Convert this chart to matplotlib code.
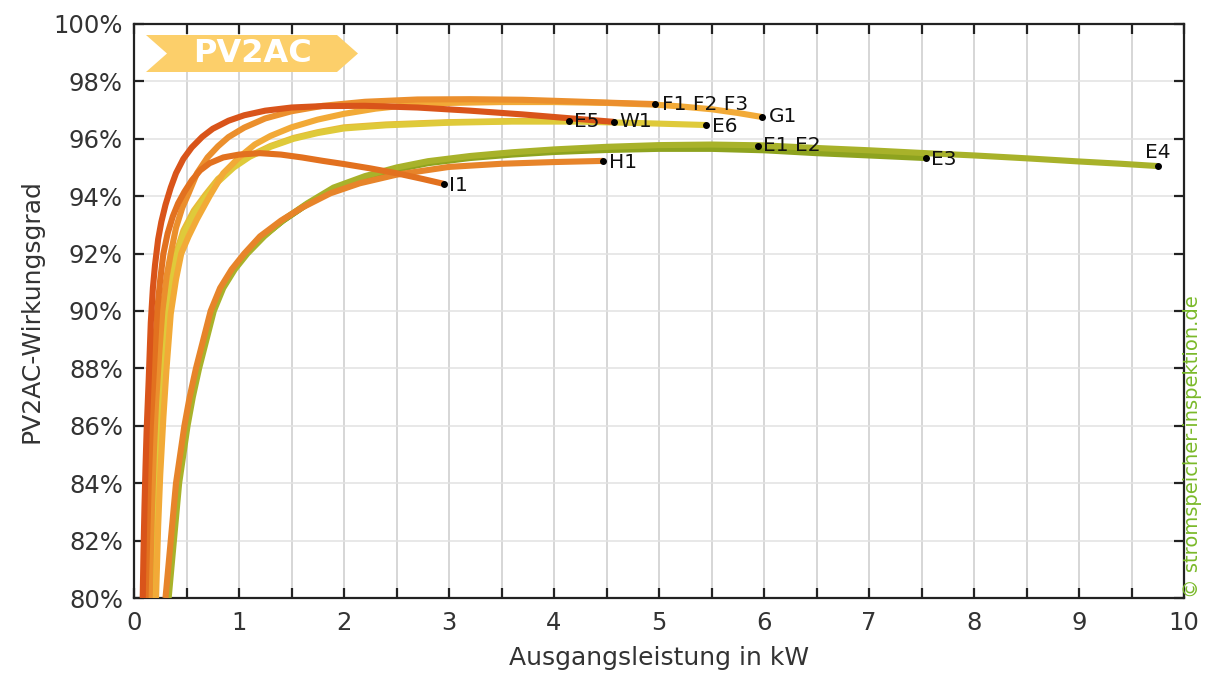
import matplotlib
matplotlib.use("Agg")
import matplotlib.pyplot as plt
from matplotlib.patches import Polygon
from matplotlib.ticker import MultipleLocator, FuncFormatter

# figure size in pixels at dpi 100
figDim = (12.08, 6.73)
figDPI = 100
tickFont = 17.5
labelFont = 18
noteFont = 14.5
lineW = 4.4

# ---- data: output power (kW) / efficiency (%) ----
w1_kw  = [0.083, 0.09, 0.10, 0.11, 0.12, 0.14, 0.16, 0.18, 0.20, 0.23, 0.26, 0.30, 0.35, 0.40, 0.47, 0.55,
          0.65, 0.75, 0.9, 1.05, 1.25, 1.5, 1.8, 2.2, 2.7, 3.2, 3.7, 4.2, 4.57]
w1_eff = [80, 81.5, 83.2, 84.6, 85.8, 87.6, 89.6, 90.8, 91.6, 92.5, 93.1, 93.7, 94.3, 94.8, 95.3, 95.7,
          96.07, 96.35, 96.63, 96.82, 96.98, 97.09, 97.14, 97.15, 97.09, 96.98, 96.85, 96.7, 96.59]

i1_kw  = [0.11, 0.125, 0.14, 0.16, 0.19, 0.22, 0.25, 0.28, 0.32, 0.37, 0.42, 0.48, 0.55, 0.63, 0.72, 0.85,
          1.0, 1.2, 1.4, 1.6, 1.8, 2.0, 2.25, 2.5, 2.75, 2.95]
i1_eff = [80, 82, 84, 86, 88, 90, 91.1, 92, 92.7, 93.3, 93.75, 94.15, 94.55, 94.9, 95.15, 95.35,
          95.45, 95.5, 95.45, 95.35, 95.23, 95.12, 94.97, 94.8, 94.6, 94.43]

f_kw  = [0.15, 0.17, 0.19, 0.21, 0.24, 0.27, 0.31, 0.35, 0.40, 0.46, 0.52, 0.6, 0.7, 0.8, 0.9, 1.05,
         1.25, 1.5, 1.8, 2.2, 2.7, 3.2, 3.7, 4.2, 4.6, 4.96]
f_eff = [80, 83, 85.2, 86.8, 88.5, 90.0, 91.2, 92.0, 92.9, 93.6, 94.1, 94.8, 95.35, 95.74, 96.06, 96.39,
         96.71, 96.96, 97.15, 97.29, 97.37, 97.38, 97.36, 97.3, 97.25, 97.21]

g1_kw  = [0.21, 0.23, 0.25, 0.28, 0.31, 0.35, 0.40, 0.45, 0.52, 0.6, 0.72, 0.85, 1.0, 1.15, 1.3, 1.5,
          1.75, 2.0, 2.3, 2.6, 3.0, 3.5, 4.0, 4.5, 4.96, 5.2, 5.5, 5.75, 5.98]
g1_eff = [80, 82.5, 84.3, 86.3, 88, 89.9, 91.1, 92.0, 92.6, 93.2, 94.0, 94.8, 95.35, 95.8, 96.1, 96.4,
          96.67, 96.87, 97.05, 97.17, 97.25, 97.28, 97.28, 97.25, 97.19, 97.13, 97.03, 96.9, 96.76]

e6_kw  = [0.18, 0.20, 0.22, 0.25, 0.28, 0.31, 0.35, 0.41, 0.48, 0.58, 0.69, 0.8, 0.95, 1.1, 1.3, 1.52,
          1.75, 2.0, 2.4, 3.0, 3.6, 4.2, 4.8, 5.45]
e6_eff = [80, 82.5, 84.3, 86.4, 88.0, 89.6, 90.7, 92.0, 92.75, 93.45, 94.0, 94.5, 95.0, 95.37, 95.72, 96.0,
          96.2, 96.36, 96.47, 96.56, 96.6, 96.6, 96.55, 96.48]

e5_kw  = [0.17, 0.19, 0.21, 0.24, 0.27, 0.30, 0.34, 0.40, 0.47, 0.57, 0.68, 0.8, 0.95, 1.1, 1.3, 1.52,
          1.75, 2.0, 2.4, 3.0, 3.6, 4.14]
e5_eff = [80, 82.5, 84.3, 86.4, 88, 89.6, 90.7, 92, 92.8, 93.5, 94.05, 94.6, 95.05, 95.4, 95.75, 96.03,
          96.23, 96.4, 96.5, 96.58, 96.62, 96.62]

h1_kw  = [0.30, 0.325, 0.35, 0.375, 0.40, 0.44, 0.48, 0.53, 0.59, 0.66, 0.73, 0.82, 0.93, 1.05, 1.2, 1.4,
          1.6, 1.87, 2.15, 2.5, 3.0, 3.5, 4.0, 4.47]
h1_eff = [80, 81, 82, 83, 84, 85, 86, 87, 88, 89, 90, 90.8, 91.45, 92.0, 92.6, 93.15,
          93.6, 94.1, 94.45, 94.75, 95.02, 95.13, 95.19, 95.23]

e4_kw  = [0.33, 0.355, 0.38, 0.405, 0.43, 0.47, 0.51, 0.56, 0.62, 0.69, 0.76, 0.85, 0.96, 1.08, 1.24, 1.43,
          1.65, 1.9, 2.2, 2.5, 2.8, 3.2, 3.6, 4.0, 4.5, 5.0, 5.5, 6.0, 6.5, 7.0, 7.54, 8.0, 8.5, 9.0, 9.4, 9.75]
e4_eff = [80, 81, 82, 83, 84, 85, 86, 87, 88, 89, 90, 90.8, 91.45, 92.0, 92.6, 93.2,
          93.75, 94.3, 94.7, 95.0, 95.22, 95.4, 95.53, 95.63, 95.72, 95.78, 95.8, 95.77, 95.68, 95.6, 95.5,
          95.42, 95.32, 95.21, 95.13, 95.05]

e3_kw  = [0.318, 0.343, 0.368, 0.393, 0.418, 0.458, 0.498, 0.548, 0.608, 0.678, 0.748, 0.838, 0.948, 1.068,
          1.228, 1.418, 1.64, 1.89, 2.2, 2.5, 2.8, 3.2, 3.6, 4.0, 4.5, 5.0, 5.5, 6.0, 6.5, 7.0, 7.54]
e3_eff = [80, 81, 82, 83, 84, 85, 86, 87, 88, 89, 90, 90.8, 91.45, 92.0,
          92.6, 93.15, 93.7, 94.22, 94.62, 94.93, 95.15, 95.33, 95.45, 95.54, 95.61, 95.65, 95.65, 95.6, 95.5, 95.42, 95.33]

e12_kw  = [0.318, 0.343, 0.368, 0.393, 0.418, 0.458, 0.498, 0.548, 0.608, 0.678, 0.748, 0.838, 0.948, 1.068,
           1.228, 1.418, 1.64, 1.89, 2.2, 2.5, 2.8, 3.2, 3.6, 4.0, 4.5, 5.0, 5.5, 5.94]
e12_eff = [80, 81, 82, 83, 84, 85, 86, 87, 88, 89, 90, 90.8, 91.45, 92.0,
           92.6, 93.15, 93.7, 94.22, 94.64, 94.95, 95.18, 95.36, 95.5, 95.6, 95.68, 95.73, 95.75, 95.75]

# drawing order: first entry at the bottom
curves = [
    (e12_kw, e12_eff, "#869d1c"),
    (e3_kw,  e3_eff,  "#8ea31f"),
    (e4_kw,  e4_eff,  "#a8b22a"),
    (h1_kw,  h1_eff,  "#e7842a"),
    (e5_kw,  e5_eff,  "#e8bb38"),
    (e6_kw,  e6_eff,  "#dfca3a"),
    (g1_kw,  g1_eff,  "#f2aa37"),
    (f_kw,   f_eff,   "#eb8f2d"),
    (i1_kw,  i1_eff,  "#e2711f"),
    (w1_kw,  w1_eff,  "#d9541a"),
]

# end point labels: (text, x, y, dx, dy, ha)
end_labels = [
    ("F1 F2 F3", f_kw[-1],  f_eff[-1],  5, 0, "left"),
    ("G1",       g1_kw[-1], g1_eff[-1], 5, 0, "left"),
    ("E5",       e5_kw[-1], e5_eff[-1], 4, 0, "left"),
    ("W1",       w1_kw[-1], w1_eff[-1], 4, 0, "left"),
    ("E6",       e6_kw[-1], e6_eff[-1], 4, -1, "left"),
    ("E1 E2",    e12_kw[-1], e12_eff[-1], 4, 0, "left"),
    ("E3",       e3_kw[-1], e3_eff[-1], 4, -1, "left"),
    ("E4",       e4_kw[-1], e4_eff[-1], 0, 3, "center"),
    ("H1",       h1_kw[-1], h1_eff[-1], 4, -1, "left"),
    ("I1",       i1_kw[-1], i1_eff[-1], 4, -1, "left"),
]

plt.rcParams["font.family"] = ["DejaVu Sans"]
fig = plt.figure(figsize=figDim, dpi=figDPI)
ax = fig.add_axes([134/1208, 1-598/673, (1184-134)/1208, (598-24)/673])

for xs, ys, col in curves:
    ax.plot(xs, ys, color=col, lw=lineW, solid_capstyle="butt", solid_joinstyle="round", zorder=3)

for txt, x, y, dx, dy, ha in end_labels:
    ax.plot([x], [y], "o", color="black", ms=4, zorder=5)
    ax.annotate(txt, (x, y), xytext=(dx, dy), textcoords="offset points",
                ha=ha, va="center" if ha == "left" else "bottom",
                fontsize=noteFont, color="#111111", zorder=6)

ax.set_xlim(0, 10)
ax.set_ylim(80, 100)
ax.xaxis.set_major_locator(MultipleLocator(1))
ax.xaxis.set_minor_locator(MultipleLocator(0.5))
ax.yaxis.set_major_locator(MultipleLocator(2))
ax.yaxis.set_major_formatter(FuncFormatter(lambda v, p: "%d%%" % v))

ax.grid(axis="x", which="both", color="#cccccc", lw=1.1, zorder=0)
ax.grid(axis="y", which="major", color="#e2e2e2", lw=1.1, zorder=0)
ax.set_axisbelow(True)

ax.tick_params(which="both", direction="in", length=7.5, width=1.6, color="#222222",
               top=True, right=True, labelsize=tickFont, labelcolor="#333333")
ax.tick_params(axis="x", which="both", pad=9)
ax.tick_params(axis="y", which="both", pad=8)
for s in ax.spines.values():
    s.set_color("#222222")
    s.set_linewidth(1.6)

ax.set_xlabel("Ausgangsleistung in kW", fontsize=labelFont, color="#333333", labelpad=8)
ax.set_ylabel("PV2AC-Wirkungsgrad", fontsize=labelFont, color="#333333", labelpad=7)

# PV2AC banner
W, H = 1208.0, 673.0
pts = [(146, 35), (337, 35), (358, 53.5), (337, 72), (146, 72), (167, 53.5)]
banner = Polygon([(x/W, 1-y/H) for x, y in pts], closed=True, transform=fig.transFigure,
                 facecolor="#fccf6a", edgecolor="none", zorder=10)
fig.patches.append(banner)
fig.text(252/W, 1-54/H, "PV2AC", color="white", fontsize=23, fontweight="bold",
         ha="center", va="center", zorder=11)

# watermark
fig.text(1193/W, 1-447/H, "\u00a9 stromspeicher-inspektion.de", rotation=90,
         color="#7ab929", fontsize=14, ha="center", va="center")

fig.savefig("out.png", dpi=figDPI)
